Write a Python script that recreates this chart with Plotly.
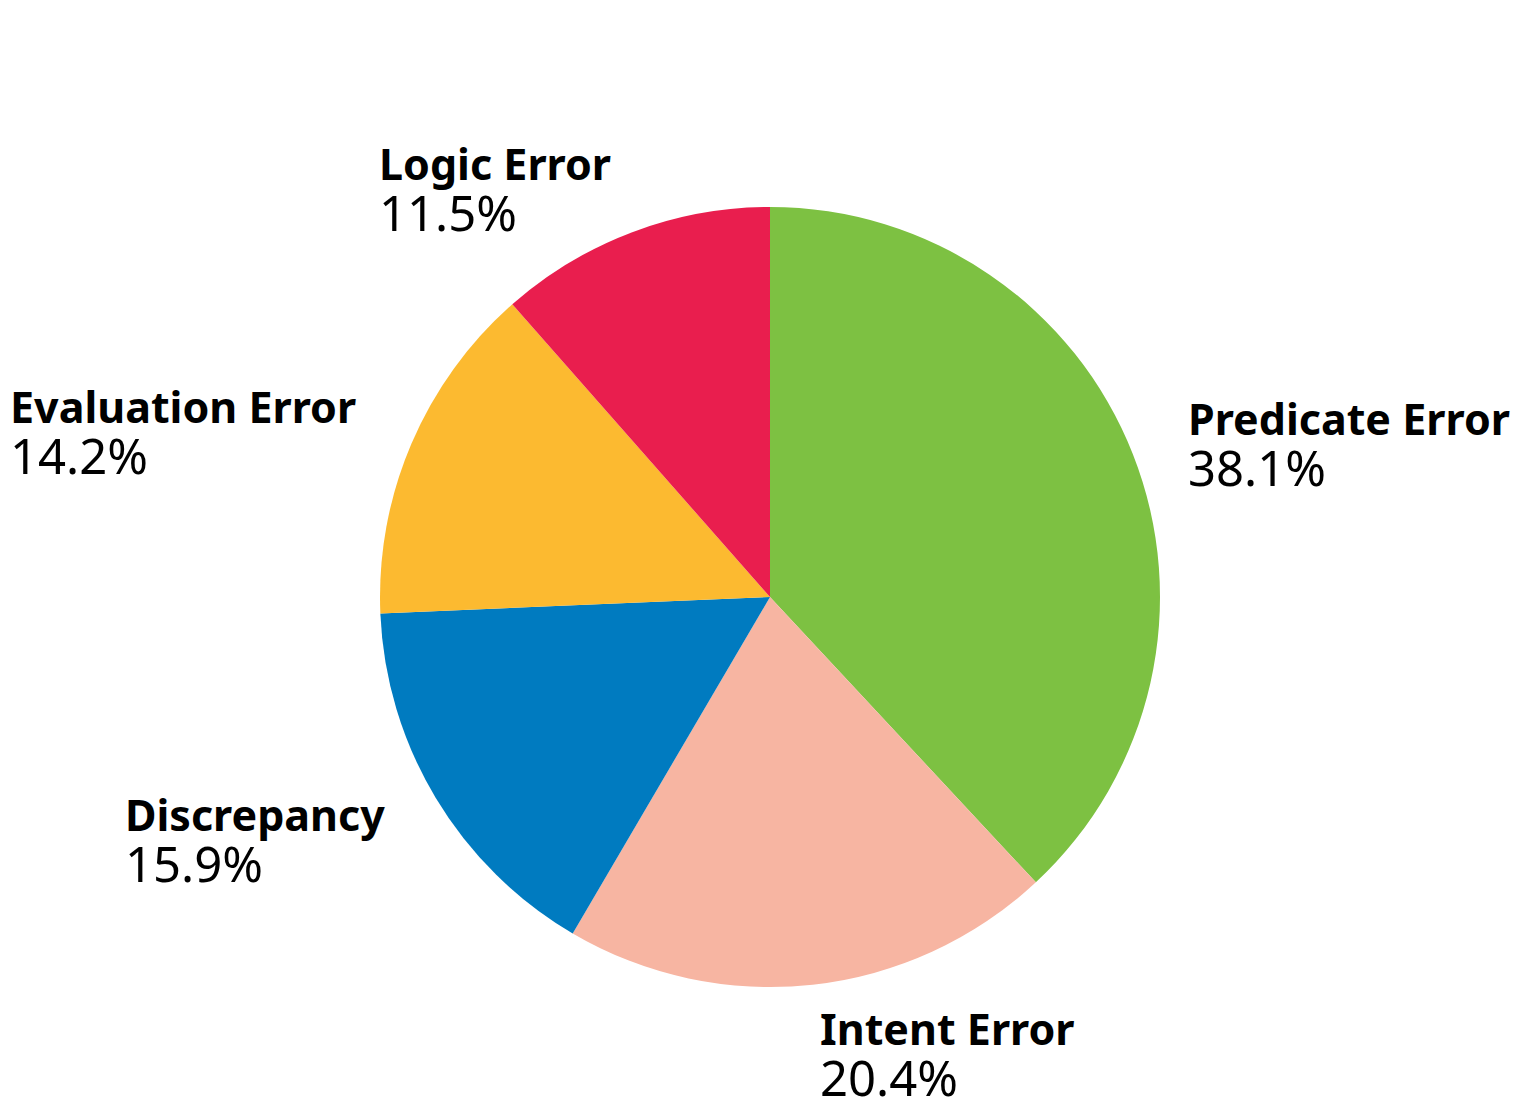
import math
import plotly.graph_objects as go

# error categories, clockwise from 12 o'clock
labels = ["Predicate Error", "Intent Error", "Discrepancy", "Evaluation Error", "Logic Error"]
values = [38.1, 20.4, 15.9, 14.2, 11.5]
colors = ["#7DC142", "#F7B5A2", "#007BC0", "#FCBA30", "#E91E4E"]

fig = go.Figure(
    go.Pie(
        labels=labels,
        values=values,
        sort=False,
        direction="clockwise",
        rotation=0,
        marker=dict(colors=colors, line=dict(width=0)),
        textinfo="none",
        showlegend=False,
        hoverinfo="label+value",
    )
)

# labels sit outside the pie at the middle angle of each slice,
# name in bold above, value below, both lines left aligned
label_r = 1.15  # relative to the pie radius
total = sum(values)
cum = 0
for name, v in zip(labels, values):
    mid = (cum + v / 2) / total * 2 * math.pi
    cum += v
    side = "left" if math.sin(mid) > 0 else "right"
    fig.add_annotation(
        x=0.5 + 0.5 * label_r * math.sin(mid),
        y=0.5 + 0.5 * label_r * math.cos(mid),
        xref="paper", yref="paper",
        text=("<b><span style='font-size:43px'>" + name + "</span></b><br>"
              "<span style='font-size:49px'>" + f"{v:.1f}%" + "</span>"),
        showarrow=False,
        xanchor=side, yanchor="middle", align="left", borderpad=0,
        yshift=-12,
        font=dict(family="Noto Sans", size=39, color="#000000"),
    )

fig.update_layout(
    width=1540,
    height=1108,
    margin=dict(l=372, r=388, t=199, b=129),
    paper_bgcolor="white",
    plot_bgcolor="white",
    font=dict(family="Noto Sans", color="#000000"),
)

fig.write_html("out.html")
